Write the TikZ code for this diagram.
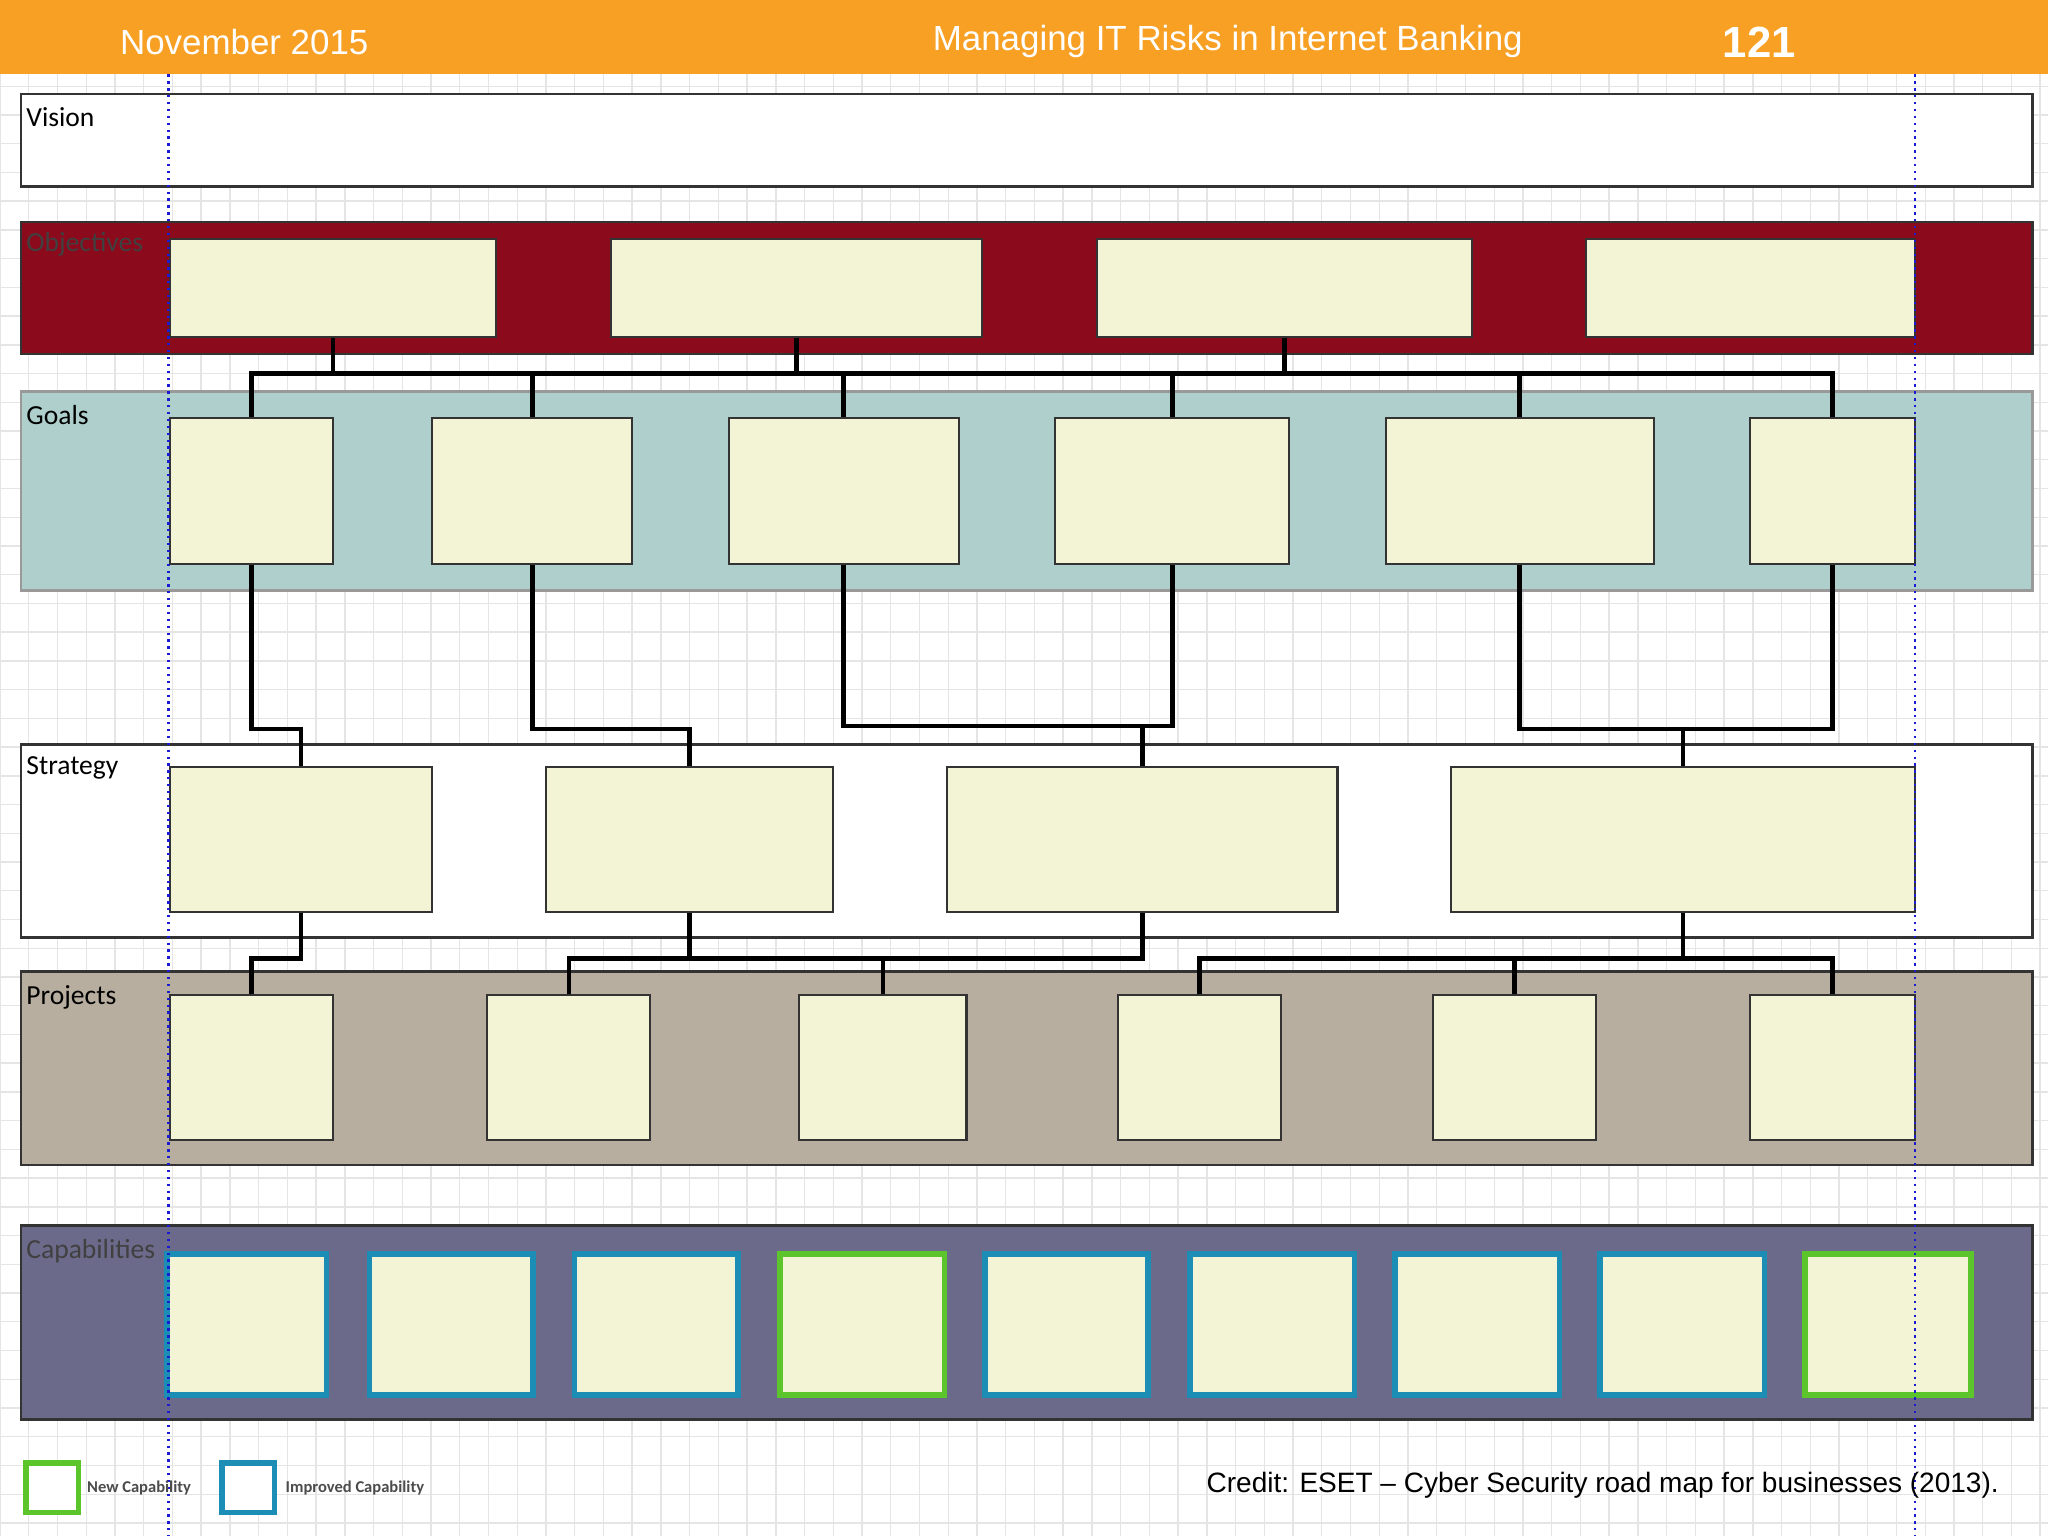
\documentclass[tikz,border=0pt]{standalone}
\usepackage{fontspec}
\setmainfont{Liberation Sans}
\newfontfamily\carlitofont{Carlito}
\definecolor{hdr}{HTML}{F7A024}
\definecolor{objc}{HTML}{8B0A1C}
\definecolor{goalc}{HTML}{AECFCB}
\definecolor{projc}{HTML}{B8AE9F}
\definecolor{capc}{HTML}{6B6A8A}
\definecolor{cream}{HTML}{F3F3D6}
\definecolor{impc}{HTML}{1C8DB5}
\definecolor{newc}{HTML}{5CC52B}
\definecolor{dotc}{HTML}{1A1AD0}
\tikzset{
 band/.style={draw=black!80, line width=0.6pt},
 cbox/.style={draw=black!80, fill=cream, line width=0.45pt},
 impbox/.style={draw=impc, fill=cream, line width=1.2pt},
 newbox/.style={draw=newc, fill=cream, line width=1.2pt},
 conn/.style={line width=1pt, black},
 lbl/.style={anchor=north west, inner sep=1pt, font=\carlitofont\fontsize{6}{7}\selectfont},
}
\newcommand\bx[6]{\node[#6, inner sep=0, minimum width={(#4-#2)*0.01cm}, minimum height={(#5-#3)*0.01cm}] (#1) at ({(#2+#4)/2},{(#3+#5)/2}) {};}
\begin{document}
\begin{tikzpicture}[x=0.01cm,y=-0.01cm]
\useasboundingbox (0,0) rectangle (1568,1176);
\fill[white] (0,0) rectangle (1568,1176);
\foreach \i in {0,...,72} \draw[black!10, line width=0.3pt] (\i*22,57) -- (\i*22,1176);
\foreach \j in {3,...,54} \draw[black!10, line width=0.3pt] (0,\j*22) -- (1568,\j*22);
% header
\fill[hdr] (0,0) rectangle (1568,57);
\node[text=white, font=\fontsize{7.6}{9}\selectfont] (h1) at (187,32) {November 2015};
\node[text=white, font=\fontsize{7.6}{9}\selectfont] (h2) at (940,32) {Managing IT Risks in Internet Banking};
\node[text=white, font=\bfseries\fontsize{9.5}{11}\selectfont] (h3) at (1347,32) {121};
% bands
\bx{vision}{16}{72}{1556}{143}{band, fill=white}
\bx{obj}{16}{170}{1556}{271}{band, fill=objc}
\bx{goal}{16}{300}{1556}{452}{band, draw=black!40, fill=goalc}
\bx{strat}{16}{570}{1556}{718}{band, fill=white}
\bx{proj}{16}{744}{1556}{892}{band, fill=projc}
\bx{cap}{16}{938}{1556}{1087}{band, fill=capc}
\node[lbl] (lv) at (16,78) {Vision};
\node[lbl, text=black!75] (lo) at (16,174) {Objectives};
\node[lbl] (lg) at (16,306) {Goals};
\node[lbl] (ls) at (16,575) {Strategy};
\node[lbl] (lp) at (16,750) {Projects};
\node[lbl, text=black!75] (lc) at (16,945) {Capabilities};
% objectives
\bx{o1}{130}{183}{380}{258}{cbox}
\bx{o2}{468}{183}{752}{258}{cbox}
\bx{o3}{840}{183}{1127}{258}{cbox}
\bx{o4}{1214}{183}{1466}{258}{cbox}
% goals
\bx{g1}{130}{320}{255}{432}{cbox}
\bx{g2}{331}{320}{484}{432}{cbox}
\bx{g3}{558}{320}{734}{432}{cbox}
\bx{g4}{808}{320}{987}{432}{cbox}
\bx{g5}{1061}{320}{1266}{432}{cbox}
\bx{g6}{1340}{320}{1466}{432}{cbox}
% strategy
\bx{s1}{130}{587}{331}{698}{cbox}
\bx{s2}{418}{587}{638}{698}{cbox}
\bx{s3}{725}{587}{1024}{698}{cbox}
\bx{s4}{1111}{587}{1466}{698}{cbox}
% projects
\bx{p1}{130}{762}{255}{873}{cbox}
\bx{p2}{373}{762}{498}{873}{cbox}
\bx{p3}{612}{762}{740}{873}{cbox}
\bx{p4}{856}{762}{981}{873}{cbox}
\bx{p5}{1097}{762}{1222}{873}{cbox}
\bx{p6}{1340}{762}{1466}{873}{cbox}
% capabilities
\bx{c1}{128}{960}{250}{1068}{impbox}
\bx{c2}{283}{960}{408}{1068}{impbox}
\bx{c3}{440}{960}{565}{1068}{impbox}
\bx{c4}{597}{960}{723}{1068}{newbox}
\bx{c5}{754}{960}{879}{1068}{impbox}
\bx{c6}{911}{960}{1037}{1068}{impbox}
\bx{c7}{1068}{960}{1194}{1068}{impbox}
\bx{c8}{1225}{960}{1351}{1068}{impbox}
\bx{c9}{1382}{960}{1509}{1068}{newbox}
% objective -> goal bus
\foreach \o in {o1,o2,o3} \draw[conn] (\o.south) -- (\o.south|-0,286);
\draw[conn] (g1.north) -- (g1.north|-0,286) -- (g6.north|-0,286) -- (g6.north);
\foreach \g in {g2,g3,g4,g5} \draw[conn] (\g.north) -- (\g.north|-0,286);
% goals -> strategy
\draw[conn] (g1.south) -- (g1.south|-0,558) -| (s1.north);
\draw[conn] (g2.south) -- (g2.south|-0,558) -| (s2.north);
\draw[conn] (g3.south) -- (g3.south|-0,556) -- (g4.south|-0,556) -- (g4.south);
\draw[conn] (s3.north) -- (s3.north|-0,556);
\draw[conn] (g5.south) -- (g5.south|-0,558) -- (g6.south|-0,558) -- (g6.south);
\draw[conn] (s4.north) -- (s4.north|-0,558);
% strategy -> projects
\draw[conn] (s1.south) -- (s1.south|-0,734) -| (p1.north);
\draw[conn] (p2.north) -- (p2.north|-0,734) -- (s3.south|-0,734) -- (s3.south);
\draw[conn] (s2.south) -- (s2.south|-0,734);
\draw[conn] (p3.north) -- (p3.north|-0,734);
\draw[conn] (p4.north) -- (p4.north|-0,734) -- (p6.north|-0,734) -- (p6.north);
\draw[conn] (s4.south) -- (s4.south|-0,734);
\draw[conn] (p5.north) -- (p5.north|-0,734);
% dotted guides
\draw[dotc, densely dotted, line width=0.5pt] (129,57) -- (129,1176);
\draw[dotc, densely dotted, line width=0.5pt] (1466,57) -- (1466,1176);
% legend
\bx{lnew}{20}{1120}{60}{1158}{draw=newc, fill=white, line width=1.2pt}
\bx{limp}{170}{1120}{210}{1158}{draw=impc, fill=white, line width=1.2pt}
\node[anchor=west, inner sep=0, font=\carlitofont\bfseries\fontsize{3.6}{4}\selectfont, text=black!70] (tnew) at (66,1139) {New Capability};
\node[anchor=west, inner sep=0, font=\carlitofont\bfseries\fontsize{3.6}{4}\selectfont, text=black!70] (timp) at (218,1139) {Improved Capability};
\node[anchor=east, inner sep=0, font=\fontsize{6.1}{7}\selectfont] (cred) at (1531,1137) {Credit: ESET – Cyber Security road map for businesses (2013).};
\end{tikzpicture}
\end{document}
